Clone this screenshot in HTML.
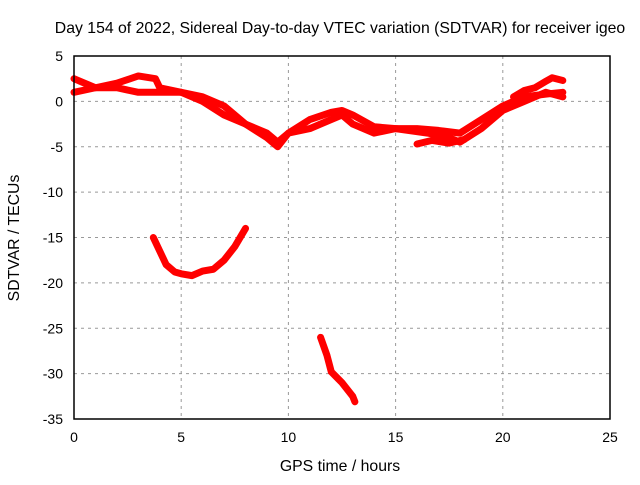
<!DOCTYPE html>
<html><head><meta charset="utf-8"><style>
body{margin:0;background:#fff}
svg{font-family:"Liberation Sans",sans-serif;font-size:14px}
.t{font-size:15.8px}
</style></head><body>
<svg id="c" width="640" height="480">
<text class="t" x="340" y="33" text-anchor="middle">Day 154 of 2022, Sidereal Day-to-day VTEC variation (SDTVAR) for receiver igeo</text>
<text class="t" x="340" y="471" text-anchor="middle">GPS time / hours</text>
<text class="t" transform="translate(19,238) rotate(-90)" text-anchor="middle">SDTVAR / TECUs</text>
<g id="grid"></g><g id="ticks"></g><g id="series"></g>
<rect x="74" y="56" width="536" height="363" fill="none" stroke="#000" stroke-width="1.5"/>
</svg>
<script>
const xTicks=[0,5,10,15,20,25];
const yTicks=[5,0,-5,-10,-15,-20,-25,-30,-35];
const hoursA=[0,0.5,1,2,3,3.8,4,5,6,7,8,9,9.5,10,11,12,12.5,13,14,15,16,17,18,19,20,21,22,22.8];
const valsA=[2.5,2,1.5,2,2.8,2.5,1.5,1,0,-1.5,-2.5,-3.5,-4.5,-3.5,-2,-1.2,-1,-1.5,-2.8,-3,-3,-3.2,-3.5,-2,-0.5,0.5,0.8,1];
const hoursB=[0,1,2,3,4,5,6,7,8,9,9.5,10,11,12,12.5,13,14,15,16.5,17.5,18,19,20,21,22,22.8];
const valsB=[1,1.5,1.5,1,1,1,0.5,-0.5,-2.5,-4,-5,-3.5,-3,-2,-1.5,-2.5,-3.5,-3,-3.5,-4,-4.5,-3,-1,0,1,0.5];
const hoursC=[20.5,21,21.5,22,22.3,22.8];
const valsC=[0.5,1.2,1.5,2.2,2.6,2.3];
const hoursF=[16,16.7,17.5,18.2];
const valsF=[-4.7,-4.3,-4.6,-4.2];
const hoursD=[3.7,4,4.3,4.7,5,5.5,6,6.5,7,7.5,8];
const valsD=[-15,-16.5,-18,-18.8,-19,-19.2,-18.7,-18.5,-17.5,-16,-14];
const hoursE=[11.5,11.8,12,12.5,13,13.1];
const valsE=[-26,-28,-29.8,-31,-32.5,-33.1];
const NS='http://www.w3.org/2000/svg';
const X=h=>74+h*536/25, Y=v=>56+(5-v)*363/40;
function mk(t,a,p){const e=document.createElementNS(NS,t);for(const k in a)e.setAttribute(k,a[k]);p.appendChild(e);return e;}
const g=document.getElementById('grid'),tk=document.getElementById('ticks'),s=document.getElementById('series');
xTicks.forEach(t=>{
 if(t>0&&t<25){const l=mk('line',{x1:X(t),x2:X(t),y1:56,y2:419,stroke:'#999','stroke-dasharray':'3,4'},g);
 
 }
 const tx=mk('text',{x:X(t),y:442,'text-anchor':'middle'},tk);tx.textContent=t;
 
 
});
yTicks.forEach(t=>{
 if(t<5&&t>-35){const l=mk('line',{x1:74,x2:610,y1:Y(t),y2:Y(t),stroke:'#999','stroke-dasharray':'3,4'},g);
 
 }
 const tx=mk('text',{x:63,y:Y(t)+5,'text-anchor':'end'},tk);tx.textContent=t;
 
 
});
[[hoursA,valsA],[hoursB,valsB],[hoursC,valsC],[hoursF,valsF],[hoursD,valsD],[hoursE,valsE]].forEach(([h,v])=>{
 const p=mk('polyline',{points:h.map((x,i)=>X(x)+','+Y(v[i])).join(' '),fill:'none',stroke:'#f00','stroke-width':7,'stroke-linejoin':'round','stroke-linecap':'round'},s);
 
 
});
</script>
</body></html>
